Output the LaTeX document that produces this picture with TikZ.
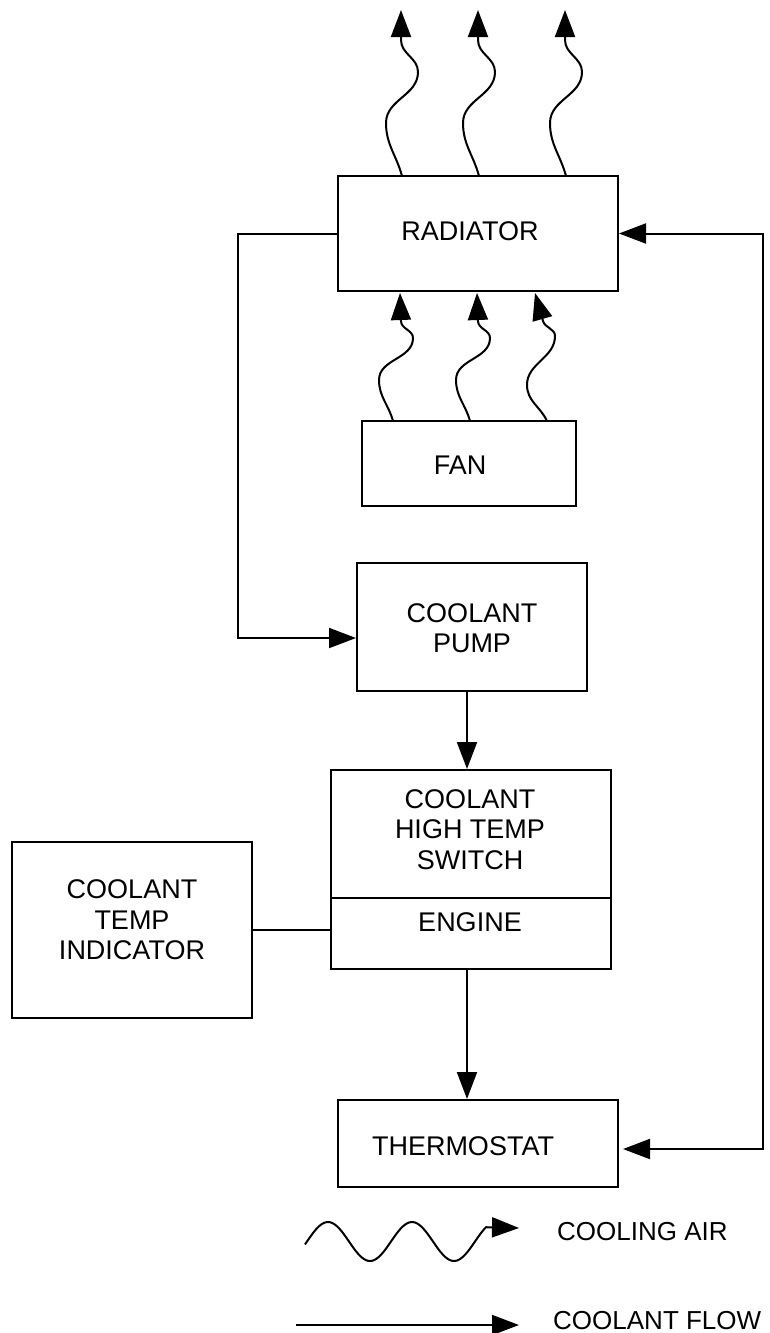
\documentclass[tikz,border=0pt]{standalone}
\usepackage{fontspec}
\setmainfont{Liberation Sans}
\usetikzlibrary{arrows.meta,calc}
\begin{document}
\begin{tikzpicture}[x=1pt,y=-1pt,
  box/.style={draw,line width=2pt,rectangle,inner sep=0pt},
  lbl/.style={inner sep=0pt,align=center,font=\fontsize{27}{30.5}\selectfont},
  lgd/.style={inner sep=0pt,anchor=west,font=\fontsize{26}{30.5}\selectfont},
  flow/.style={line width=2pt,-{Triangle[length=27pt,width=20pt]}},
  both/.style={line width=2pt,{Triangle[length=27pt,width=20pt]}-{Triangle[length=27pt,width=20pt]}},
  plain/.style={line width=2pt},
  wavy/.style={line width=2pt,-{Triangle[length=27pt,width=20pt]}}]
\useasboundingbox (0,0) rectangle (769,1333);
% boxes
\node[box,minimum width=280pt,minimum height=115pt] (rad) at (478,233.5) {};
\node[box,minimum width=214pt,minimum height=85pt] (fan) at (469,463.5) {};
\node[box,minimum width=230pt,minimum height=128pt] (pump) at (472,627) {};
\node[box,minimum width=280pt,minimum height=199pt] (eng) at (471,869.5) {};
\node[box,minimum width=240pt,minimum height=176pt] (ind) at (132,930) {};
\node[box,minimum width=280pt,minimum height=87pt] (thermo) at (478,1143.5) {};
\draw[plain] (eng.west |- 0,898) -- (eng.east |- 0,898);
% labels
\node[lbl] (radt) at (470,231) {RADIATOR};
\node[lbl] (fant) at (460,465) {FAN};
\node[lbl] (pumpt) at (472,628) {COOLANT\\PUMP};
\node[lbl] (swt) at (470,829.5) {COOLANT\\HIGH TEMP\\SWITCH};
\node[lbl] (engt) at (470,922) {ENGINE};
\node[lbl] (indt) at (132,920) {COOLANT\\TEMP\\INDICATOR};
\node[lbl] (thermot) at (463,1146) {THERMOSTAT};
\node[lgd] (lgair) at (557,1232) {COOLING AIR};
\node[lgd] (lgflow) at (553,1321) {COOLANT FLOW};
% coolant connectors
\draw[flow] (rad.west) -- (238,233.5) |- ([yshift=-11pt]pump.west);
\draw[flow] ([xshift=-5pt]pump.south) -- ([xshift=-5pt]pump.south |- eng.north);
\draw[flow] ([xshift=-4pt]eng.south) -- ([xshift=-4pt]eng.south |- thermo.north);
\draw[plain] (ind.east) -- (ind.east -| eng.west);
\coordinate (rb) at (763,1149);
\coordinate (rt) at (763,233.5);
\draw[both] ([xshift=4pt,yshift=-5.5pt]thermo.east) -- (rb) -- (rt) -- (rad.east);
% cooling air from radiator
\foreach \d in {0,77,164}{
  \draw[wavy] ({402+\d},176) to[out=105,in=-90] ({386+\d},123) to[out=90,in=-90] ({418+\d},72) to[out=90,in=-90] ({401+\d},40) -- ({401+\d},10);
}
% cooling air from fan
\foreach \d in {0,77}{
  \draw[wavy] ({393+\d},421) to[out=105,in=-90] ({379+\d},380) to[out=90,in=-90] ({413+\d},338) to[out=90,in=-90] ({401+\d},321) -- ({400+\d},293);
}
\draw[wavy] (547,421) to[out=115,in=-90] (527,385) to[out=90,in=-90] (555,336) to[out=90,in=-74] (543,321) -- (535,293);
% legend
\coordinate (lwtip) at (519,1228);
\draw[wavy] plot[domain=305:486,samples=90] (\x,{1241.5-19.5*sin(90+(\x-328)*4.2857)}) -- (lwtip);
\coordinate (lfa) at (296,1325);
\coordinate (lfb) at (519,1325);
\draw[flow] (lfa) -- (lfb);
\end{tikzpicture}
\end{document}
